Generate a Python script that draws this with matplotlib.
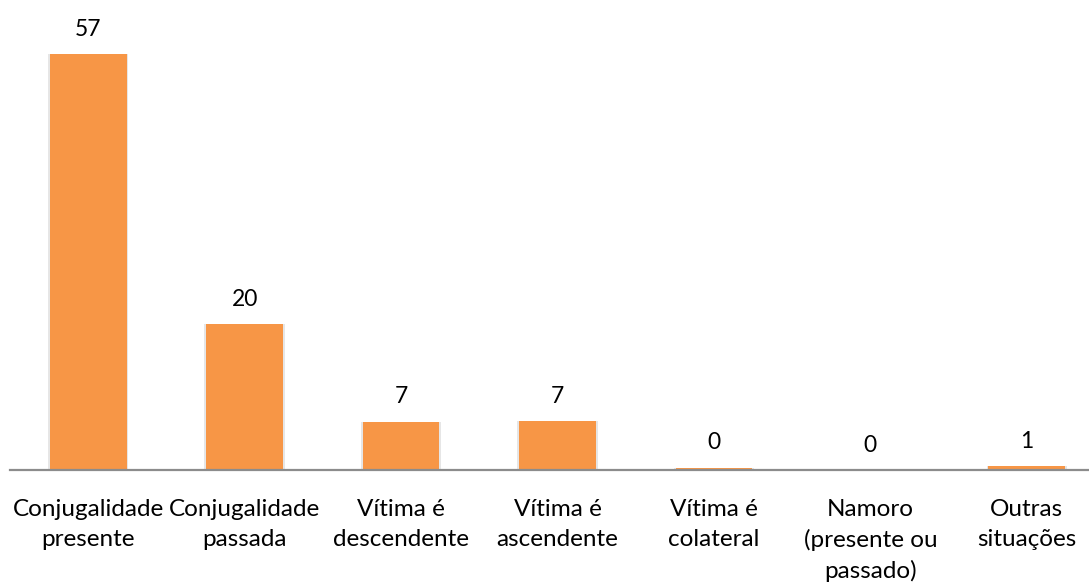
import matplotlib.pyplot as plt

plt.rcParams['font.family'] = ['Lato', 'DejaVu Sans']

# data (percentages, labels shown rounded)
categories = ['Conjugalidade\npresente', 'Conjugalidade\npassada', 'Vítima é\ndescendente',
              'Vítima é\nascendente', 'Vítima é\ncolateral', 'Namoro\n(presente ou\npassado)',
              'Outras\nsituações']
values = [57.0, 20.0, 6.6, 6.7, 0.3, 0.0, 0.5]
value_labels = ['57', '20', '7', '7', '0', '0', '1']

bar_color = '#F79646'

fig = plt.figure(figsize=(10.89, 5.83), dpi=100)
ax = fig.add_axes([10 / 1089, 113 / 583, 1095 / 1089, 470 / 583])

x = list(range(len(categories)))

# faint shadow behind the bars
ax.bar(x, values, width=0.515, color='#cfcfcf', alpha=0.5, zorder=1)
bars = ax.bar(x, values, width=0.49, color=bar_color, zorder=2)

for xi, v, lab in zip(x, values, value_labels):
    ax.annotate(lab, (xi, v), xytext=(0, 18), textcoords='offset points',
                ha='center', va='center', fontsize=16.5, color='black')

ax.set_xlim(-0.5, len(categories) - 0.5)
ax.set_ylim(0, 64.4)

ax.set_xticks(x)
ax.set_xticklabels(categories, fontsize=17.5, linespacing=1.5)
ax.tick_params(axis='x', length=0, pad=21)
ax.set_yticks([])

for s in ['top', 'right', 'left']:
    ax.spines[s].set_visible(False)
ax.spines['bottom'].set_color('#8c8c8c')
ax.spines['bottom'].set_linewidth(1.6)

plt.savefig('out.png', dpi=100)
